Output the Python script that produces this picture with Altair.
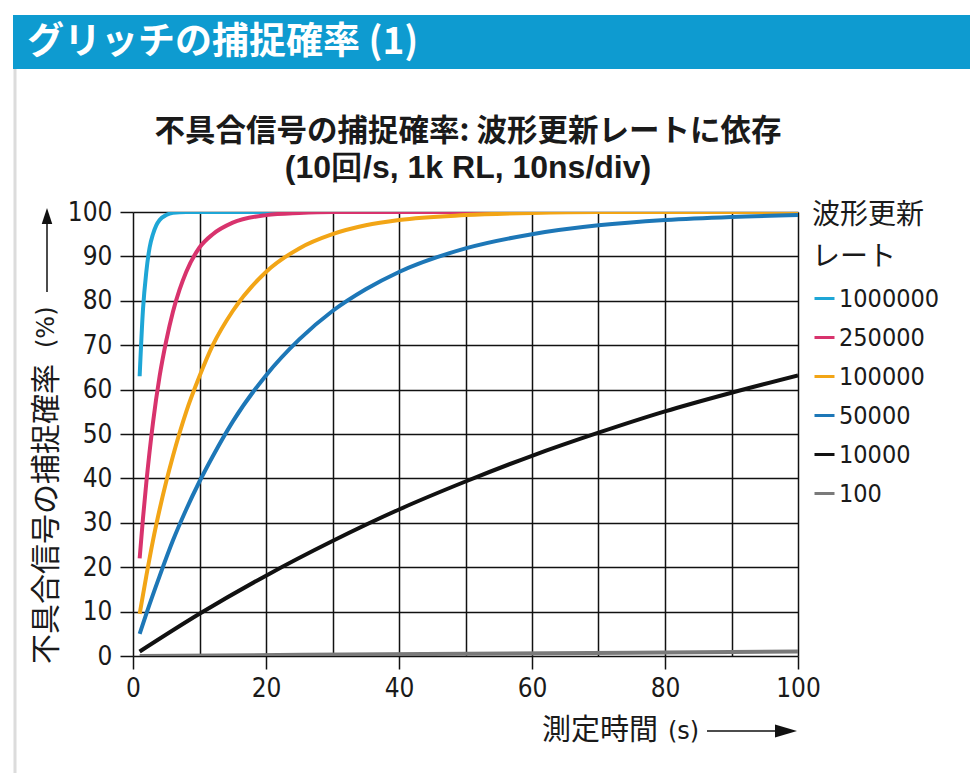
import altair as alt
import pandas as pd

# Capture probability (%) vs. measurement time (s), one series per waveform update rate
rates = ["1000000", "250000", "100000", "50000", "10000", "100"]
colors = ["#1ea6d6", "#d8336d", "#f2a516", "#1d77b7", "#111111", "#7a7a7a"]

t_1000000 = [1, 1.5, 2, 2.5, 3, 3.5, 4, 5, 6, 8, 100]
p_1000000 = [63, 78, 86.5, 92, 95, 97, 98.2, 99.3, 99.8, 100, 100]

t_250000 = [1, 1.5, 2, 3, 4, 5, 6, 7, 8, 10, 12, 15, 20, 25, 30, 100]
p_250000 = [22, 31, 39, 52.5, 63, 71, 77.5, 82.5, 86.5, 92, 95, 97.6, 99.3, 99.8, 100, 100]

t_100000 = [1, 2, 3, 4, 5, 6, 8, 10, 12, 15, 20, 25, 30, 35, 40, 50, 60, 70, 100]
p_100000 = [9.5, 18, 26, 33, 39.3, 45, 55, 63, 70, 77.7, 86.5, 91.8, 95, 97, 98.2, 99.3, 99.8, 100, 100]

t_50000 = [1, 2, 4, 6, 8, 10, 12, 15, 20, 25, 30, 35, 40, 50, 60, 70, 80, 90, 100]
p_50000 = [5, 9.5, 18, 26, 33, 39.3, 45, 52.8, 63.2, 71.3, 77.7, 82.6, 86.5, 91.8, 95, 97, 98.2, 98.9, 99.3]

t_10000 = [1, 10, 20, 30, 40, 50, 60, 70, 80, 90, 100]
p_10000 = [1, 9.5, 18.1, 25.9, 33, 39.3, 45.1, 50.3, 55.1, 59.3, 63.2]

t_100 = [1, 50, 100]
p_100 = [0.01, 0.5, 1]

series = {
    "1000000": (t_1000000, p_1000000),
    "250000": (t_250000, p_250000),
    "100000": (t_100000, p_100000),
    "50000": (t_50000, p_50000),
    "10000": (t_10000, p_10000),
    "100": (t_100, p_100),
}

rows = []
for k, (r, (ts, ps)) in enumerate(series.items()):
    for t, p in zip(ts, ps):
        rows.append({"rate": r, "t": t, "p": p, "z": k})
df = pd.DataFrame(rows)

ticks = list(range(0, 101, 10))
NUM_FONT = "Liberation Sans Narrow, DejaVu Sans Condensed, Arial Narrow, sans-serif"
JP_FONT = "Noto Sans CJK JP"

x_axis = alt.Axis(
    values=ticks,
    labelExpr="datum.value % 20 === 0 ? datum.label : ''",
    tickColor={"condition": {"test": "datum.value % 20 === 0", "value": "#111111"},
               "value": "transparent"},
    labelFlush=False,
    title=None,
)
y_axis = alt.Axis(values=ticks, labelFlush=False, title=None)

lines = alt.Chart(df).mark_line(strokeWidth=4, interpolate="monotone", clip=True).encode(
    x=alt.X("t:Q", scale=alt.Scale(domain=[0, 100], nice=False), axis=x_axis),
    y=alt.Y("p:Q", scale=alt.Scale(domain=[0, 100], nice=False), axis=y_axis),
    color=alt.Color(
        "rate:N",
        scale=alt.Scale(domain=rates, range=colors),
        legend=alt.Legend(
            title=["波形更新", "レート"],
            orient="none",
            legendX=679,
            legendY=-10,
        ),
    ),
    order=alt.Order("z:Q"),
)

one = pd.DataFrame({"_": [0]})


def text(label, x, y, size, font=JP_FONT, weight="normal", color="#1a1a1a",
         align="left", angle=0):
    return alt.Chart(one).mark_text(
        text=label, font=font, fontSize=size, fontWeight=weight, color=color,
        align=align, baseline="middle", angle=angle,
    ).encode(x=alt.value(x), y=alt.value(y))


def bar(x1, y1, x2, y2, color="#111111"):
    return alt.Chart(one).mark_rect(color=color).encode(
        x=alt.value(x1), x2=alt.value(x2), y=alt.value(y1), y2=alt.value(y2)
    )


def head(shape, x, y, size, color="#111111"):
    return alt.Chart(one).mark_point(
        shape=shape, filled=True, size=size, color=color, opacity=1, strokeWidth=0,
    ).encode(x=alt.value(x), y=alt.value(y))


# Header band and left frame edge
header = bar(-120, -197, 837, -143, color="#0e9bd0")
frame = bar(-119.5, -143, -116.5, 561, color="#dcdcdc")
header_text = text("グリッチの捕捉確率 (1)", -106, -169, 37, weight="bold", color="white")

title1 = text("不具合信号の捕捉確率: 波形更新レートに依存", 335, -80, 30.5,
              weight="bold", align="center")
title2 = text("(10回/s, 1k RL, 10ns/div)", 335, -44, 32,
              font="Liberation Sans, Arial, sans-serif", weight="bold", align="center")

# Y axis title with upward arrow
ytitle = text("不具合信号の捕捉確率", -86, 452, 30, angle=270)
ypct = text("(%)", -86, 136, 24, font="DejaVu Sans, sans-serif", angle=270)
yarrow = bar(-86.75, 80, -85.25, 10)
yhead = head("M -0.66 1 L 0 -1 L 0.66 1 Z", -86, 4, 256)

# X axis title with rightward arrow
xtitle = text("測定時間", 409, 519, 29)
xsec = text("(s)", 535, 520, 24, font="DejaVu Sans, sans-serif")
xarrow = bar(574, 518.25, 650, 519.75)
xhead = head("M -1 -0.6 L 1 0 L -1 0.6 Z", 653, 519, 484)

chart = alt.layer(
    header, frame, header_text, title1, title2,
    lines,
    ytitle, ypct, yarrow, yhead, xtitle, xsec, xarrow, xhead,
).properties(
    width=665,
    height=444,
    padding={"left": 133, "top": 212, "right": 172, "bottom": 117},
    autosize=alt.AutoSizeParams(type="none"),
    background="white",
).configure_view(
    stroke=None
).configure_axis(
    grid=True,
    gridColor="#111111",
    gridWidth=1.5,
    gridOpacity=1,
    domain=False,
    tickSize=13,
    tickWidth=1.5,
    tickColor="#111111",
    labelFont=NUM_FONT,
    labelFontSize=26,
    labelColor="#1a1a1a",
).configure_axisX(
    labelPadding=6,
).configure_axisY(
    labelPadding=8,
).configure_legend(
    titleFont=JP_FONT,
    titleFontSize=28,
    titleFontWeight="normal",
    titleColor="#1a1a1a",
    titleLineHeight=42,
    titlePadding=14,
    labelFont=NUM_FONT,
    labelFontSize=25,
    labelColor="#1a1a1a",
    labelOffset=2,
    symbolType="stroke",
    symbolSize=400,
    symbolStrokeWidth=3,
    rowPadding=13,
    padding=0,
)

chart.save("out.html", embed_options={"renderer": "svg", "actions": False})
